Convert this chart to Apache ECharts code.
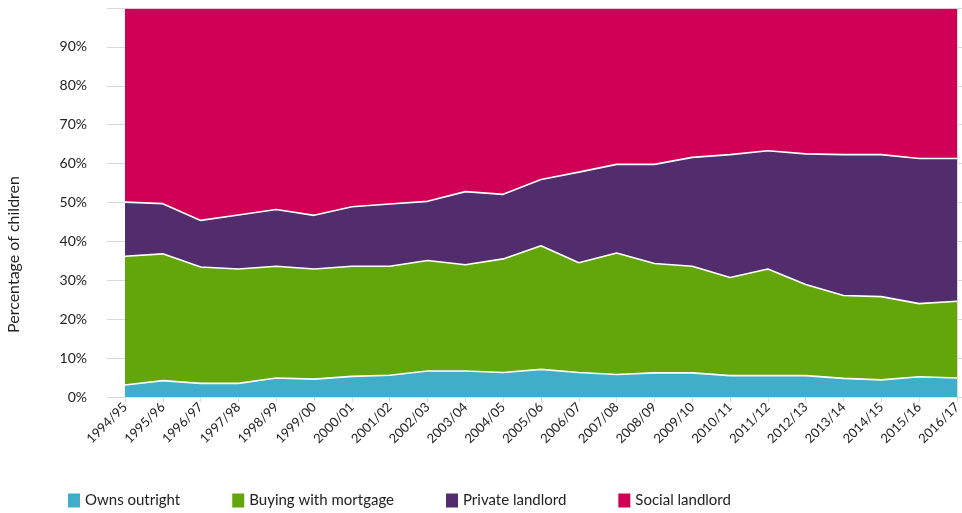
<!DOCTYPE html>
<html>
<head>
<meta charset="utf-8">
<script src="https://cdn.jsdelivr.net/npm/echarts@6/dist/echarts.min.js"></script>
<style>
  html, body { margin: 0; padding: 0; background: #fff; }
  #chart { width: 962px; height: 513px; }
</style>
</head>
<body>
<div id="chart"></div>
<script>
// years on the x axis
var years = ['1994/95','1995/96','1996/97','1997/98','1998/99','1999/00','2000/01','2001/02',
  '2002/03','2003/04','2004/05','2005/06','2006/07','2007/08','2008/09','2009/10','2010/11',
  '2011/12','2012/13','2013/14','2014/15','2015/16','2016/17'];

// percentage of children by tenure
var ownsOutright = [3.1,4.2,3.5,3.5,4.9,4.6,5.3,5.6,6.7,6.7,6.3,7.1,6.3,5.8,6.2,6.2,5.5,5.5,5.5,4.8,4.4,5.2,4.9];
var buyingMortgage = [33.1,32.6,29.9,29.4,28.7,28.3,28.3,28.0,28.4,27.3,29.2,31.8,28.2,31.2,28.1,27.4,25.2,27.4,23.4,21.3,21.4,18.8,19.7];
var privateLandlord = [13.9,12.9,12.0,13.9,14.6,13.8,15.3,16.0,15.2,18.8,16.6,17.0,23.3,22.8,25.5,28.0,31.6,30.4,33.6,36.2,36.5,37.3,36.7];
var socialLandlord = [49.9,50.3,54.6,53.2,51.8,53.3,51.1,50.4,49.7,47.2,47.9,44.1,42.2,40.2,40.2,38.4,37.7,36.7,37.5,37.7,37.7,38.7,38.7];

var names = ['Owns outright','Buying with mortgage','Private landlord','Social landlord'];
var colors = ['#41aec9','#63a60b','#522d6d','#d00056'];
var values = [ownsOutright, buyingMortgage, privateLandlord, socialLandlord];

var font = 'Lato, "Open Sans", sans-serif';

function makeSeries(i){
  return {
    name: names[i],
    type: 'line',
    stack: 'total',
    z: 10 - i,          // lower bands on top so their white edge stays whole
    showSymbol: false,
    symbol: 'none',
    lineStyle: { color: '#ffffff', width: 1.6 },
    itemStyle: { color: colors[i] },
    areaStyle: { color: colors[i], opacity: 1 },
    data: values[i]
  };
}

var myChart = echarts.init(document.getElementById('chart'));
myChart.setOption({
  animation: false,
  backgroundColor: '#fff',
  color: colors,
  textStyle: { fontFamily: font },
  grid: { left: 125, right: 5, top: 8, bottom: 116, outerBoundsMode: 'none', containLabel: false },
  legend: {
    left: 63,
    top: 488,
    itemWidth: 12,
    itemHeight: 14,
    itemGap: 52,
    icon: 'rect',
    textStyle: { fontSize: 15, color: '#222', fontFamily: font },
    data: names
  },
  xAxis: {
    type: 'category',
    boundaryGap: false,
    data: years,
    axisLine: { lineStyle: { color: '#d9d9d9', width: 1.5 } },
    axisTick: { show: true, length: 5, alignWithLabel: true, lineStyle: { color: '#d9d9d9' } },
    axisLabel: { rotate: 45, interval: 0, fontSize: 13, color: '#222', margin: 8, fontFamily: font }
  },
  yAxis: [{
    type: 'value',
    min: 0, max: 100, interval: 10,
    name: 'Percentage of children',
    nameLocation: 'middle',
    nameRotate: 90,
    nameGap: 103,
    // right padding pushes the rotated title down, as in the original
    nameTextStyle: { fontSize: 16, color: '#222', fontFamily: font, padding: [0, 104, 0, 0] },
    splitLine: { show: false },
    axisLine: { show: true, lineStyle: { color: '#e6e6e6' } },
    axisTick: { show: true, length: 18, lineStyle: { color: '#d9d9d9' } },
    axisLabel: {
      margin: 38, fontSize: 14, color: '#222', fontFamily: font,
      formatter: function(v){ return v === 100 ? '' : v + '%'; }
    }
  }, {
    type: 'value',
    position: 'right',
    min: 0, max: 100, interval: 10,
    splitLine: { show: false },
    axisLine: { show: true, lineStyle: { color: '#d9d9d9' } },
    axisTick: { show: true, length: 5, lineStyle: { color: '#d9d9d9' } },
    axisLabel: { show: false }
  }],
  series: [makeSeries(0), makeSeries(1), makeSeries(2), makeSeries(3)]
});
</script>
</body>
</html>
